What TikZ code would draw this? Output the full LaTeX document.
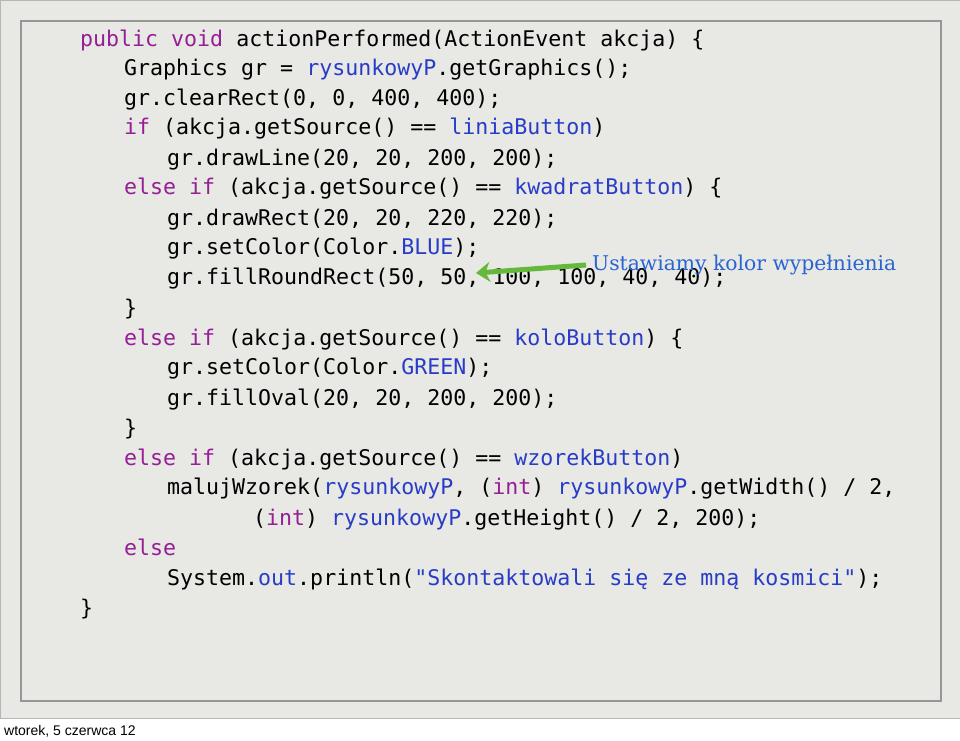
\documentclass[tikz,border=0pt]{standalone}
\usepackage{fontspec}
\setmainfont{DejaVu Serif}
\setsansfont{Liberation Sans}
\setmonofont{DejaVu Sans Mono}
\usetikzlibrary{arrows.meta}
\definecolor{slidebg}{RGB}{232,232,228}
\definecolor{framegray}{RGB}{150,150,150}
\definecolor{kw}{RGB}{150,30,150}
\definecolor{id}{RGB}{40,60,200}
\definecolor{notecol}{RGB}{40,100,210}
\definecolor{arrowgreen}{RGB}{100,185,60}
\newcommand\kw[1]{\textcolor{kw}{#1}}
\newcommand\id[1]{\textcolor{id}{#1}}

\begin{document}
\begin{tikzpicture}[x=1pt,y=-1pt,
  code/.style={anchor=base west,inner sep=0pt,font=\ttfamily\fontsize{21.6}{26}\selectfont},
  note/.style={anchor=west,inner sep=0pt,text=notecol,font=\rmfamily\fontsize{20.3}{22}\selectfont}]

  \useasboundingbox (0,0) rectangle (960,740);
  \fill[slidebg] (0,0) rectangle (960,718);
  \draw[framegray!70,line width=1pt] (0,0) rectangle (960,718);
  \draw[framegray,line width=2pt] (21,21) rectangle (941,701);

  % code lines
  \node[code] (l1)  at (80,46)  {\kw{public void} actionPerformed(ActionEvent akcja) \{};
  \node[code] (l2)  at (124,75) {Graphics gr = \id{rysunkowyP}.getGraphics();};
  \node[code] (l3)  at (124,105) {gr.clearRect(0, 0, 400, 400);};
  \node[code] (l4)  at (124,134) {\kw{if} (akcja.getSource() == \id{liniaButton})};
  \node[code] (l5)  at (167,165) {gr.drawLine(20, 20, 200, 200);};
  \node[code] (l6)  at (124,194) {\kw{else if} (akcja.getSource() == \id{kwadratButton}) \{};
  \node[code] (l7)  at (167,225) {gr.drawRect(20, 20, 220, 220);};
  \node[code] (l8)  at (167,254) {gr.setColor(Color.\id{BLUE});};
  \node[code] (l9)  at (167,284) {gr.fillRoundRect(50, 50, 100, 100, 40, 40);};
  \node[code] (l10) at (124,315) {\}};
  \node[code] (l11) at (124,345) {\kw{else if} (akcja.getSource() == \id{koloButton}) \{};
  \node[code] (l12) at (167,374) {gr.setColor(Color.\id{GREEN});};
  \node[code] (l13) at (167,405) {gr.fillOval(20, 20, 200, 200);};
  \node[code] (l14) at (124,435) {\}};
  \node[code] (l15) at (124,465) {\kw{else if} (akcja.getSource() == \id{wzorekButton})};
  \node[code] (l16) at (167,494) {malujWzorek(\id{rysunkowyP}, (\kw{int}) \id{rysunkowyP}.getWidth() / 2,};
  \node[code] (l17) at (253,525) {(\kw{int}) \id{rysunkowyP}.getHeight() / 2, 200);};
  \node[code] (l18) at (124,555) {\kw{else}};
  \node[code] (l19) at (167,585) {System.\id{out}.println(\id{"Skontaktowali się ze mną kosmici"});};
  \node[code] (l20) at (80,615) {\}};

  % annotation
  \node[note] (fill) at (592,265) {Ustawiamy kolor wypełnienia};
  \coordinate (tip) at (476,273);
  \draw[arrowgreen,line width=5pt,-{Stealth[length=14pt,width=20pt]}] ([xshift=-6pt]fill.west) -- (tip);

  \node[anchor=west,inner sep=0pt,font=\sffamily\fontsize{14}{16}\selectfont] (date) at (4,731) {wtorek, 5 czerwca 12};
\end{tikzpicture}
\end{document}
